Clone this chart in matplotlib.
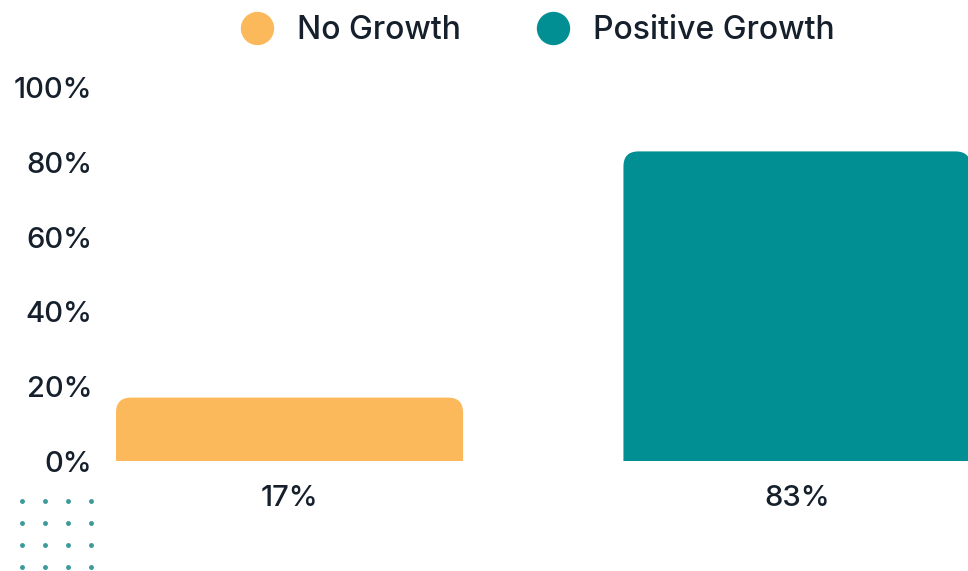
import matplotlib
matplotlib.use("Agg")
import matplotlib.pyplot as plt
from matplotlib.patches import FancyBboxPatch
from matplotlib.lines import Line2D

categories = ["No Growth", "Positive Growth"]
values = [17, 83]
value_labels = ["17%", "83%"]
colors = ["#FBB95C", "#018F94"]
yticks = [0, 20, 40, 60, 80, 100]
ytick_labels = ["0%", "20%", "40%", "60%", "80%", "100%"]

text_color = "#15202C"
plt.rcParams['font.family'] = ['Inter', 'DejaVu Sans']
plt.rcParams['font.weight'] = 'medium'

fig = plt.figure(figsize=(9.68, 5.71), dpi=100)
ax = fig.add_axes([116/968, 1 - 461/571, (968-116)/968, (461-88)/571])

xpos = list(range(len(categories)))
width = 0.684
ax.set_xlim(-width/2, 1 + 0.337)
ax.set_ylim(0, 100)

# pixel scales for rounding
fig.canvas.draw()
x_px = ax.transData.transform((1, 0))[0] - ax.transData.transform((0, 0))[0]
y_px = ax.transData.transform((0, 1))[1] - ax.transData.transform((0, 0))[1]
r_px = 15
r_x = r_px / x_px
aspect = (r_px / y_px) / r_x

bars = ax.bar(xpos, values, width=width, color=colors)
for b, c in zip(bars, colors):
    b.set_visible(False)
    ext = r_px / y_px
    p = FancyBboxPatch((b.get_x(), -ext), b.get_width(), b.get_height() + ext,
                       boxstyle=f"round,pad=0,rounding_size={r_x}",
                       mutation_aspect=aspect, facecolor=c, edgecolor="none")
    ax.add_patch(p)

ax.set_yticks(yticks)
ax.set_yticklabels(ytick_labels)
ax.set_xticks(xpos)
ax.set_xticklabels(value_labels)
ax.tick_params(axis='both', length=0, labelsize=21, colors=text_color)
ax.tick_params(axis='y', pad=17)
ax.tick_params(axis='x', pad=17)
for lab in ax.get_xticklabels() + ax.get_yticklabels():
    lab.set_fontweight('medium')
for s in ax.spines.values():
    s.set_visible(False)

handles = [Line2D([], [], marker='o', linestyle='none', markersize=23,
                  markerfacecolor=c, markeredgecolor=c) for c in colors]
leg = ax.legend(handles, categories, loc='center', bbox_to_anchor=(0.486, 1.155),
                ncol=2, frameon=False, handletextpad=0.25,
                columnspacing=1.9, labelcolor=text_color,
                prop={'size': 23, 'weight': 'medium'})

# decorative dot grid
for i in range(4):
    for j in range(4):
        fig.add_artist(Line2D([(22 + 23*i)/968], [1 - (501 + 22*j)/571],
                              marker='o', markersize=2.5, color="#3C9A9A",
                              linestyle='none', transform=fig.transFigure))

fig.savefig("out.png", dpi=100)
